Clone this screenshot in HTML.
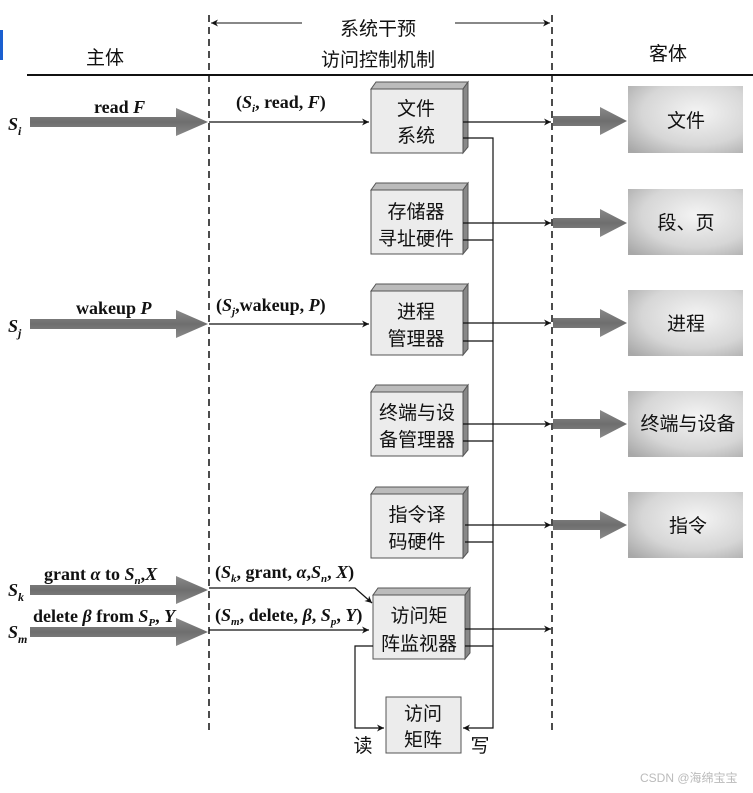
<!DOCTYPE html>
<html><head><meta charset="utf-8"><style>
html,body{margin:0;padding:0;background:#fff;}
svg{display:block;}
.cn{font-family:"Liberation Sans","Noto Sans CJK SC",sans-serif;font-size:19px;fill:#111;}
.lt{font-family:"Liberation Serif",serif;font-size:18px;fill:#111;font-weight:bold;}
</style></head><body>
<svg width="753" height="793" viewBox="0 0 753 793" xmlns="http://www.w3.org/2000/svg">
<defs>
<marker id="a" viewBox="0 0 10 10" refX="10" refY="5" markerWidth="9" markerHeight="7" orient="auto" markerUnits="userSpaceOnUse"><path d="M0,0 L10,5 L0,10 L3,5 z" fill="#111"/></marker>
<radialGradient id="g" cx="0.6" cy="0.4" r="0.8"><stop offset="0" stop-color="#f4f4f4"/><stop offset="0.6" stop-color="#d6d6d6"/><stop offset="1" stop-color="#a8a8a8"/></radialGradient>
<linearGradient id="fb" x1="0" y1="0" x2="0" y2="1"><stop offset="0" stop-color="#8a8a8a"/><stop offset="0.5" stop-color="#6e6e6e"/><stop offset="1" stop-color="#8a8a8a"/></linearGradient>
</defs>
<rect x="0" y="30" width="3" height="30" fill="#1a5fd0"/>
<line x1="27" y1="75" x2="753" y2="75" stroke="#111" stroke-width="2"/>
<line x1="209" y1="15" x2="209" y2="730" stroke="#111" stroke-width="1.5" stroke-dasharray="7,5"/>
<line x1="552" y1="15" x2="552" y2="730" stroke="#111" stroke-width="1.5" stroke-dasharray="7,5"/>
<line x1="302" y1="23" x2="211" y2="23" stroke="#111" marker-end="url(#a)"/>
<line x1="455" y1="23" x2="550" y2="23" stroke="#111" marker-end="url(#a)"/>
<text x="378" y="35" class="cn" text-anchor="middle">系统干预</text>
<text x="378" y="66" class="cn" text-anchor="middle">访问控制机制</text>
<text x="105" y="64" class="cn" text-anchor="middle">主体</text>
<text x="668" y="60" class="cn" text-anchor="middle">客体</text>

<g fill="url(#fb)">
<path d="M30,117 H176 V108 L208,122 L176,136 V127 H30 z"/>
<path d="M30,319 H176 V310 L208,324 L176,338 V329 H30 z"/>
<path d="M30,585 H176 V576 L208,590 L176,604 V595 H30 z"/>
<path d="M30,627 H176 V618 L208,632 L176,646 V637 H30 z"/>
</g>
<text x="8" y="130" class="lt" font-style="italic" font-size="22" font-weight="normal">S<tspan font-size="12" dy="5">i</tspan></text>
<text x="8" y="332" class="lt" font-style="italic" font-size="22" font-weight="normal">S<tspan font-size="12" dy="5">j</tspan></text>
<text x="8" y="596" class="lt" font-style="italic" font-size="22" font-weight="normal">S<tspan font-size="12" dy="5">k</tspan></text>
<text x="8" y="638" class="lt" font-style="italic" font-size="22" font-weight="normal">S<tspan font-size="12" dy="5">m</tspan></text>
<text x="94" y="113" class="lt">read <tspan font-style="italic">F</tspan></text>
<text x="76" y="314" class="lt">wakeup <tspan font-style="italic">P</tspan></text>
<text x="44" y="580" class="lt">grant <tspan font-style="italic">α</tspan> to <tspan font-style="italic">S<tspan font-size="11" dy="4">n</tspan></tspan><tspan dy="-4">,</tspan><tspan font-style="italic">X</tspan></text>
<text x="33" y="622" class="lt">delete <tspan font-style="italic">β</tspan> from <tspan font-style="italic">S<tspan font-size="11" dy="4">P</tspan></tspan><tspan dy="-4">,</tspan> <tspan font-style="italic">Y</tspan></text>

<text x="236" y="108" class="lt">(<tspan font-style="italic">S<tspan font-size="11" dy="4">i</tspan></tspan><tspan dy="-4">, read, </tspan><tspan font-style="italic">F</tspan>)</text>
<text x="216" y="311" class="lt">(<tspan font-style="italic">S<tspan font-size="11" dy="4">j</tspan></tspan><tspan dy="-4">,wakeup, </tspan><tspan font-style="italic">P</tspan>)</text>
<text x="215" y="578" class="lt">(<tspan font-style="italic">S<tspan font-size="11" dy="4">k</tspan></tspan><tspan dy="-4">, grant, </tspan><tspan font-style="italic">α</tspan>,<tspan font-style="italic">S<tspan font-size="11" dy="4">n</tspan></tspan><tspan dy="-4">, </tspan><tspan font-style="italic">X</tspan>)</text>
<text x="215" y="621" class="lt">(<tspan font-style="italic">S<tspan font-size="11" dy="4">m</tspan></tspan><tspan dy="-4">, delete, </tspan><tspan font-style="italic">β</tspan>, <tspan font-style="italic">S<tspan font-size="11" dy="4">p</tspan></tspan><tspan dy="-4">, </tspan><tspan font-style="italic">Y</tspan>)</text>

<g stroke="#111" stroke-width="1.2" fill="none">
<line x1="209" y1="122" x2="369" y2="122" marker-end="url(#a)"/>
<line x1="209" y1="324" x2="369" y2="324" marker-end="url(#a)"/>
<polyline points="209,588 355,588 372,603" marker-end="url(#a)"/>
<line x1="209" y1="630" x2="369" y2="630" marker-end="url(#a)"/>
</g>

<g>
<g transform="translate(0,0)"><path d="M371,89 L376,82 L468,82 L463,89 z" fill="#bbb" stroke="#555"/><path d="M463,89 L468,82 L468,147 L463,153 z" fill="#888" stroke="#555"/><rect x="371" y="89" width="92" height="64" fill="#ececec" stroke="#555"/></g>
<g transform="translate(0,101)"><path d="M371,89 L376,82 L468,82 L463,89 z" fill="#bbb" stroke="#555"/><path d="M463,89 L468,82 L468,147 L463,153 z" fill="#888" stroke="#555"/><rect x="371" y="89" width="92" height="64" fill="#ececec" stroke="#555"/></g>
<g transform="translate(0,202)"><path d="M371,89 L376,82 L468,82 L463,89 z" fill="#bbb" stroke="#555"/><path d="M463,89 L468,82 L468,147 L463,153 z" fill="#888" stroke="#555"/><rect x="371" y="89" width="92" height="64" fill="#ececec" stroke="#555"/></g>
<g transform="translate(0,303)"><path d="M371,89 L376,82 L468,82 L463,89 z" fill="#bbb" stroke="#555"/><path d="M463,89 L468,82 L468,147 L463,153 z" fill="#888" stroke="#555"/><rect x="371" y="89" width="92" height="64" fill="#ececec" stroke="#555"/></g>
<g transform="translate(0,405)"><path d="M371,89 L376,82 L468,82 L463,89 z" fill="#bbb" stroke="#555"/><path d="M463,89 L468,82 L468,147 L463,153 z" fill="#888" stroke="#555"/><rect x="371" y="89" width="92" height="64" fill="#ececec" stroke="#555"/></g>
<g transform="translate(2,506)"><path d="M371,89 L376,82 L468,82 L463,89 z" fill="#bbb" stroke="#555"/><path d="M463,89 L468,82 L468,147 L463,153 z" fill="#888" stroke="#555"/><rect x="371" y="89" width="92" height="64" fill="#ececec" stroke="#555"/></g>
</g>
<rect x="386" y="697" width="75" height="56" fill="#ececec" stroke="#555"/>
<g class="cn" text-anchor="middle" font-size="20">
<text x="416" y="115">文件</text><text x="416" y="142">系统</text>
<text x="416" y="218">存储器</text><text x="416" y="245">寻址硬件</text>
<text x="416" y="318">进程</text><text x="416" y="345">管理器</text>
<text x="417" y="419">终端与设</text><text x="417" y="446">备管理器</text>
<text x="417" y="521">指令译</text><text x="417" y="548">码硬件</text>
<text x="419" y="622">访问矩</text><text x="419" y="650">阵监视器</text>
<text x="423" y="720">访问</text><text x="423" y="746">矩阵</text>
<text x="363" y="752">读</text><text x="480" y="752">写</text>
</g>

<g stroke="#111" stroke-width="1.2" fill="none">
<line x1="463" y1="122" x2="551" y2="122" marker-end="url(#a)"/>
<line x1="463" y1="223" x2="551" y2="223" marker-end="url(#a)"/>
<line x1="463" y1="323" x2="551" y2="323" marker-end="url(#a)"/>
<line x1="463" y1="424" x2="551" y2="424" marker-end="url(#a)"/>
<line x1="465" y1="525" x2="551" y2="525" marker-end="url(#a)"/>
<line x1="465" y1="629" x2="551" y2="629" marker-end="url(#a)"/>
<polyline points="463,138 493,138 493,728 463,728" marker-end="url(#a)"/>
<line x1="463" y1="240" x2="493" y2="240"/>
<line x1="463" y1="341" x2="493" y2="341"/>
<line x1="463" y1="441" x2="493" y2="441"/>
<line x1="465" y1="542" x2="493" y2="542"/>
<line x1="465" y1="646" x2="493" y2="646"/>
<polyline points="373,646 355,646 355,728 384,728" marker-end="url(#a)"/>
</g>

<g fill="url(#fb)">
<path d="M553,116 H600 V107 L627,121 L600,135 V126 H553 z"/>
<path d="M553,218 H600 V209 L627,223 L600,237 V228 H553 z"/>
<path d="M553,318 H600 V309 L627,323 L600,337 V328 H553 z"/>
<path d="M553,419 H600 V410 L627,424 L600,438 V429 H553 z"/>
<path d="M553,520 H600 V511 L627,525 L600,539 V530 H553 z"/>
</g>
<g>
<rect x="628" y="86" width="115" height="67" fill="url(#g)"/>
<rect x="628" y="189" width="115" height="66" fill="url(#g)"/>
<rect x="628" y="290" width="115" height="66" fill="url(#g)"/>
<rect x="628" y="391" width="115" height="66" fill="url(#g)"/>
<rect x="628" y="492" width="115" height="66" fill="url(#g)"/>
</g>
<g class="cn" text-anchor="middle" font-size="20">
<text x="686" y="127">文件</text>
<text x="686" y="229">段、页</text>
<text x="686" y="330">进程</text>
<text x="688" y="430">终端与设备</text>
<text x="688" y="532">指令</text>
</g>
<text x="640" y="782" font-family="Liberation Sans,Noto Sans CJK SC,sans-serif" font-size="12" fill="#bbb">CSDN @海绵宝宝</text>
</svg>
</body></html>
